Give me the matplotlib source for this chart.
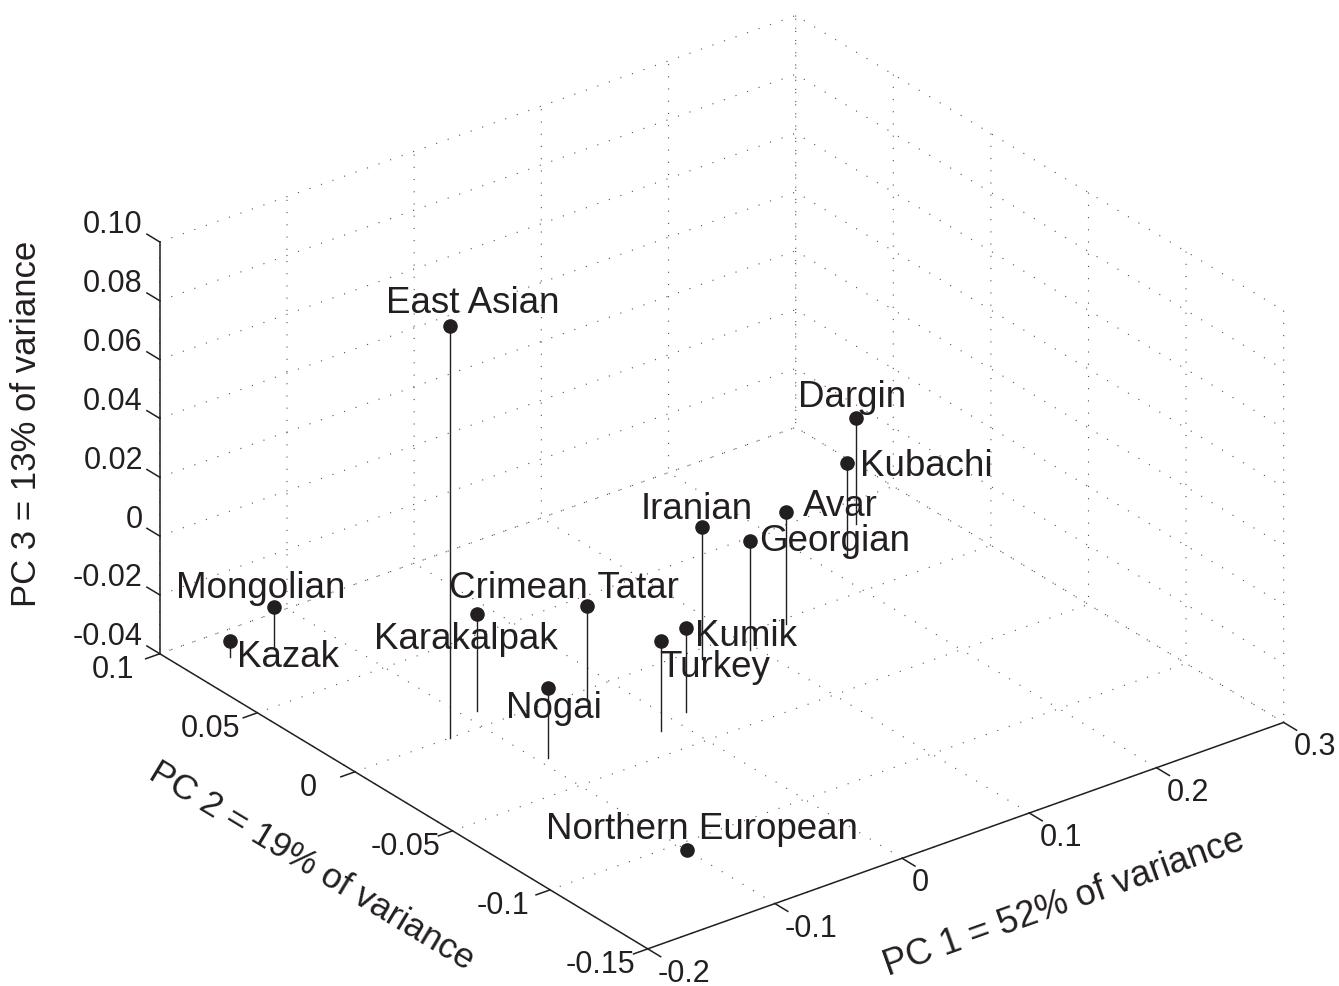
import numpy as np
import matplotlib
matplotlib.use('Agg')
import matplotlib.pyplot as plt
from mpl_toolkits.mplot3d import proj3d

# ---------------- data ----------------
populations = ['East Asian', 'Mongolian', 'Kazak', 'Karakalpak', 'Crimean Tatar',
               'Nogai', 'Turkey', 'Kumik', 'Iranian', 'Georgian', 'Avar',
               'Kubachi', 'Dargin', 'Northern European']
pc1 = [-0.125, -0.139, -0.168, -0.090, -0.027, -0.093, -0.015, 0.013,
       0.064, 0.095, 0.134, 0.219, 0.251, -0.102]
pc2 = [0.000, 0.081, 0.085, 0.009, -0.006, -0.029, -0.036, -0.031,
       -0.006, -0.010, -0.003, 0.021, 0.037, -0.106]
pc3 = [0.100, -0.026, -0.0346, -0.007, -0.008, -0.0165, -0.0095, -0.0116,
       0.005, -0.003, -0.002, -0.008, -0.004, -0.039]

x_ticks = [-0.2, -0.1, 0, 0.1, 0.2, 0.3]
x_ticklabels = ['-0.2', '-0.1', '0', '0.1', '0.2', '0.3']
y_ticks = [-0.15, -0.1, -0.05, 0, 0.05, 0.1]
y_ticklabels = ['-0.15', '-0.1', '-0.05', '0', '0.05', '0.1']
z_ticks = [-0.04, -0.02, 0, 0.02, 0.04, 0.06, 0.08, 0.10]
z_ticklabels = ['-0.04', '-0.02', '0', '0.02', '0.04', '0.06', '0.08', '0.10']

x_label = 'PC 1 = 52% of variance'
y_label = 'PC 2 = 19% of variance'
z_label = 'PC 3 = 13% of variance'

x_lim = (-0.2, 0.3)
y_lim = (-0.15, 0.1)
z_lim = (-0.04, 0.1)

# label placement (pixel offsets of text left/baseline from the marker)
label_offsets = {
    'East Asian': (-64, 14), 'Mongolian': (-98, 10), 'Kazak': (7, -25),
    'Karakalpak': (-103, -34), 'Crimean Tatar': (-138, 9), 'Nogai': (-42, -29),
    'Turkey': (-1, -35), 'Kumik': (9, -17), 'Iranian': (-62, 9),
    'Georgian': (9, -9), 'Avar': (17, -3), 'Kubachi': (13, -12),
    'Dargin': (-58, 12), 'Northern European': (-141, 12),
}

# ---------------- style ----------------
plt.rcParams['font.family'] = ['Liberation Sans', 'DejaVu Sans']
ink = '#231f20'
W, H = 1339, 987
fig = plt.figure(figsize=(W / 100, H / 100), dpi=100)
fig.patch.set_facecolor('white')
ax = fig.add_axes([0, 0, H / W, 1], projection='3d', proj_type='ortho')
ax.view_init(elev=27.65, azim=-127.5)
ax.set_box_aspect((1, 1, 0.58))
ax.set_xlim(*x_lim)
ax.set_ylim(*y_lim)
ax.set_zlim(*z_lim)
ax.set_xticks(x_ticks)
ax.set_yticks(y_ticks)
ax.set_zticks(z_ticks)
ax.set_xticklabels([''] * len(x_ticks))
ax.set_yticklabels([''] * len(y_ticks))
ax.set_zticklabels([''] * len(z_ticks))
ax.tick_params(axis='both', color=(1, 1, 1, 0))
ax.tick_params(axis='z', color=(1, 1, 1, 0))
for axis in (ax.xaxis, ax.yaxis, ax.zaxis):
    axis.set_pane_color((1, 1, 1, 0))
    axis._axinfo['grid'].update(color='#505050', linewidth=0.8,
                                linestyle=(0, (1, 10)))
    axis._axinfo['tick']['inward_factor'] = 0.0
    axis._axinfo['tick']['outward_factor'] = 0.0
    axis._axinfo['axisline']['color'] = (1, 1, 1, 0)
    axis.line.set_visible(False)
ax.grid(True)

# ---------------- stems and points ----------------
for x, y, z in zip(pc1, pc2, pc3):
    ax.plot([x, x], [y, y], [z_lim[0], z], color=ink, lw=1.0)
ax.plot(pc1, pc2, pc3, ls='none', marker='o', ms=10.5, mfc=ink, mec=ink, mew=0)

# ---------------- axis lines and ticks (MATLAB style) ----------------
ax.plot(x_lim, [y_lim[0]] * 2, [z_lim[0]] * 2, color=ink, lw=1.1)
ax.plot([x_lim[0]] * 2, y_lim, [z_lim[0]] * 2, color=ink, lw=1.1)
ax.plot([x_lim[0]] * 2, [y_lim[1]] * 2, z_lim, color=ink, lw=1.1)
tlx = 0.0066 * (y_lim[1] - y_lim[0]) / 0.25
tly = 0.0111 * (x_lim[1] - x_lim[0]) / 0.5
for xt in x_ticks:
    ax.plot([xt, xt], [y_lim[0], y_lim[0] - tlx], [z_lim[0]] * 2, color=ink, lw=1.1)
for yt in y_ticks:
    ax.plot([x_lim[0], x_lim[0] - tly], [yt, yt], [z_lim[0]] * 2, color=ink, lw=1.1)
for zt in z_ticks:
    ax.plot([x_lim[0]] * 2, [y_lim[1], y_lim[1] + tlx], [zt, zt], color=ink, lw=1.1)
ax.set_xlim(*x_lim)
ax.set_ylim(*y_lim)
ax.set_zlim(*z_lim)

# ---------------- fit the box to the page ----------------
fig.canvas.draw()


def proj2d(x, y, z):
    x2, y2, _ = proj3d.proj_transform(x, y, z, ax.get_proj())
    return x2, y2


def to_px(x, y, z):
    return np.array(ax.transData.transform(proj2d(x, y, z)))


corners = [(x_lim[0], y_lim[0], z_lim[0]), (x_lim[1], y_lim[0], z_lim[0]),
           (x_lim[0], y_lim[1], z_lim[0]), (x_lim[0], y_lim[1], z_lim[1])]
targets = np.array([(648, H - 950), (1283, H - 724), (160, H - 655), (160, H - 242)], float)
cur = np.array([to_px(*c) for c in corners])
pos = ax.get_position()
L = np.array([pos.x0 * W, pos.y0 * H])
S = pos.width * W
num = 0.0
den = 0.0
for i in range(4):
    for j in range(i + 1, 4):
        num += np.linalg.norm(targets[i] - targets[j])
        den += np.linalg.norm(cur[i] - cur[j])
kscale = num / den
Lnew = np.mean(targets - kscale * (cur - L), axis=0)
Snew = S * kscale
ax.set_position([Lnew[0] / W, Lnew[1] / H, Snew / W, Snew / H])

# ---------------- texts ----------------
for name, x, y, z in zip(populations, pc1, pc2, pc3):
    ax.annotate(name, xy=proj2d(x, y, z), xycoords='data',
                xytext=label_offsets[name], textcoords='offset pixels',
                ha='left', va='baseline', fontsize=26.5, color=ink,
                annotation_clip=False)
for xt, lab in zip(x_ticks, x_ticklabels):
    ax.annotate(lab, xy=proj2d(xt, y_lim[0], z_lim[0]), xycoords='data',
                xytext=(10, -32), textcoords='offset pixels', ha='left',
                va='baseline', fontsize=22, color=ink, annotation_clip=False)
for yt, lab in zip(y_ticks, y_ticklabels):
    ax.annotate(lab, xy=proj2d(x_lim[0], yt, z_lim[0]), xycoords='data',
                xytext=(-47, -23.5), textcoords='offset pixels', ha='center',
                va='baseline', fontsize=22, color=ink, annotation_clip=False)
for zt, lab in zip(z_ticks, z_ticklabels):
    ax.annotate(lab, xy=proj2d(x_lim[0], y_lim[1], zt), xycoords='data',
                xytext=(-17, 9.5), textcoords='offset pixels', ha='right',
                va='baseline', fontsize=22, color=ink, annotation_clip=False)

fig.text(1064 / W, 1 - 903 / H, x_label, rotation=19.6, rotation_mode='anchor',
         ha='center', va='center', fontsize=26, color=ink)
fig.text(312 / W, 1 - 866 / H, y_label, rotation=-31.1, rotation_mode='anchor',
         ha='center', va='center', fontsize=25.5, color=ink)
fig.text(27 / W, 1 - 424 / H, z_label, rotation=90, rotation_mode='anchor',
         ha='center', va='center', fontsize=25, color=ink)

fig.savefig('out.png', dpi=100, facecolor='white')
